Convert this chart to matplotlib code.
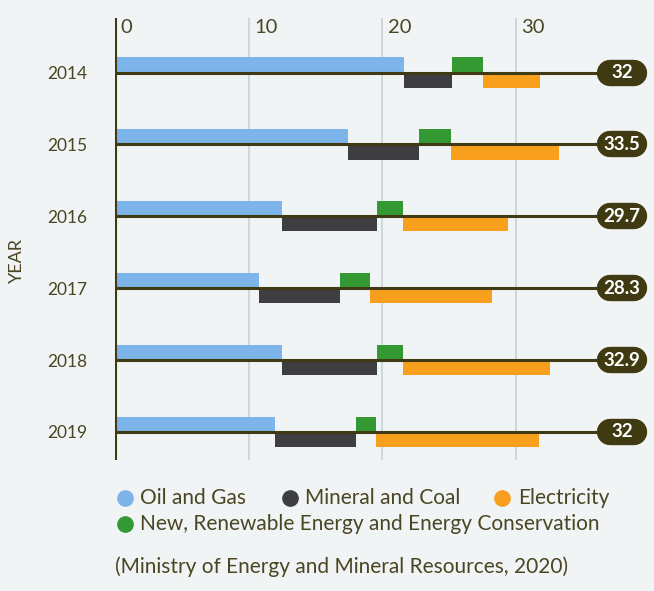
import matplotlib.pyplot as plt
from matplotlib.lines import Line2D
import numpy as np

plt.rcParams['font.family'] = ['Lato', 'DejaVu Sans']

# data
years = ['2014', '2015', '2016', '2017', '2018', '2019']
oil = [21.6, 17.4, 12.5, 10.8, 12.5, 12.0]
coal = [3.6, 5.3, 7.1, 6.0, 7.1, 6.0]
renew = [2.3, 2.4, 1.9, 2.3, 1.9, 1.5]
elec = [4.3, 8.1, 7.9, 9.1, 11.0, 12.2]
totals = ['32', '33.5', '29.7', '28.3', '32.9', '32']

BG = '#f0f4f5'
OLIVE = '#3f3a12'
TXT = '#4a4522'
C_OIL = '#7db4ea'
C_COAL = '#3e3d42'
C_REN = '#339933'
C_ELEC = '#f99f1e'

fig = plt.figure(figsize=(6.54, 5.91), dpi=100, facecolor=BG)
ax = fig.add_axes([0.1758, 0.2217, 0.818, 0.748])
ax.set_facecolor(BG)

pos = np.arange(len(years))
h = 0.21
oil = np.array(oil)
coal = np.array(coal)
renew = np.array(renew)
elec = np.array(elec)

ax.barh(pos - h / 2, oil, height=h, color=C_OIL, zorder=2)
ax.barh(pos + h / 2, coal, height=h, left=oil, color=C_COAL, zorder=2)
ax.barh(pos - h / 2, renew, height=h, left=oil + coal, color=C_REN, zorder=2)
ax.barh(pos + h / 2, elec, height=h, left=oil + coal + renew, color=C_ELEC, zorder=2)

# baselines + total labels
ax.hlines(pos, 0, 37, color=OLIVE, lw=2.2, zorder=3)
for p, t in zip(pos, totals):
    ax.plot([37.0, 38.8], [p, p], color=OLIVE, lw=19, solid_capstyle='round', zorder=4)
    ax.text(37.9, p, t, ha='center', va='center', color='white',
            fontsize=13.5, fontweight='bold', zorder=5)

ax.set_xlim(0, 40)
ax.set_ylim(5.39, -0.76)

# grid + vertical axis
for v in [10, 20, 30]:
    ax.axvline(v, color='#c9d4dc', lw=1.3, zorder=1)
ax.axvline(0, color=OLIVE, lw=2.2, zorder=3)
for v in [0, 10, 20, 30]:
    ax.text(v + 0.4, 0.997, str(v), transform=ax.get_xaxis_transform(),
            ha='left', va='top', color=TXT, fontsize=14.5)

for s in ax.spines.values():
    s.set_visible(False)
ax.set_xticks([])
ax.set_yticks(pos)
ax.set_yticklabels(years, color=TXT, fontsize=12.5)
ax.tick_params(axis='y', length=0, pad=20)

fig.text(0.026, 0.56, 'YEAR', rotation=90, ha='center', va='center',
         color=TXT, fontsize=13)

# legend
items = [(0.191, 0.214, 0.157, C_OIL, 'Oil and Gas'),
         (0.443, 0.466, 0.157, C_COAL, 'Mineral and Coal'),
         (0.768, 0.793, 0.157, C_ELEC, 'Electricity'),
         (0.191, 0.214, 0.113, C_REN, 'New, Renewable Energy and Energy Conservation')]
for mx, tx, y, c, lab in items:
    fig.add_artist(Line2D([mx], [y], marker='o', markersize=11, color=c,
                          transform=fig.transFigure))
    fig.text(tx, y, lab, ha='left', va='center', color=TXT, fontsize=15)

fig.text(0.176, 0.041, '(Ministry of Energy and Mineral Resources, 2020)',
         ha='left', va='center', color=TXT, fontsize=15)

fig.savefig('out.png', dpi=100, facecolor=BG)
